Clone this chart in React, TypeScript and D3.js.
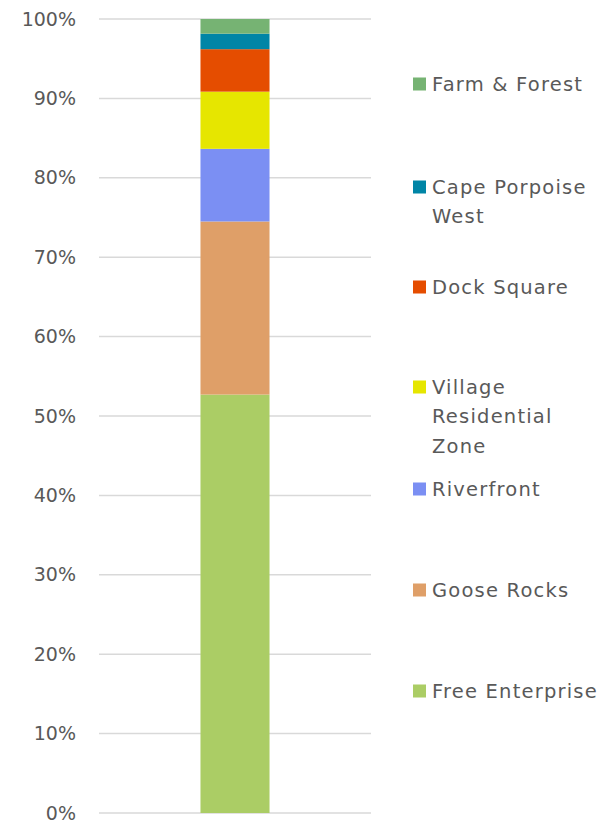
import React from "react";
import * as d3 from "d3";

const categories = ["Free Enterprise", "Goose Rocks", "Riverfront", "Village Residential Zone", "Dock Square", "Cape Porpoise West", "Farm & Forest"];
const values = [52.7, 21.8, 9.15, 7.2, 5.35, 1.95, 1.85];
const colors = ["#abcd65", "#df9f68", "#7b8ff3", "#e6e600", "#e54d00", "#0085a6", "#76b373"];
const legendLines = [["Free Enterprise"], ["Goose Rocks"], ["Riverfront"], ["Village", "Residential", "Zone"], ["Dock Square"], ["Cape Porpoise", "West"], ["Farm & Forest"]];
const legendY = [691, 590, 489, 387, 287, 187, 84];
const ticks = [0, 10, 20, 30, 40, 50, 60, 70, 80, 90, 100];

export default function App() {
  const W = 609, H = 825;
  const y = d3.scaleLinear().domain([0, 100]).range([813, 19]);
  const x = d3.scaleBand().domain(["all"]).range([99, 371]).paddingInner(0).paddingOuter(1.47);
  const row: any = { key: "all" };
  categories.forEach((c, i) => (row[c] = values[i]));
  const stack = d3.stack().keys(categories)([row]);
  const font = "'DejaVu Sans', sans-serif";
  return (
    <svg width={W} height={H} style={{ position: "absolute", left: 0, top: 0 }}>
      {ticks.map((t) => (
        <g key={t}>
          <line x1={99} x2={371} y1={y(t)} y2={y(t)} stroke="#d9d9d9" strokeWidth={1.5} />
          <text x={76} y={y(t)} dy="0.35em" textAnchor="end" fontFamily={font} fontSize={19} fill="#595959">{t}%</text>
        </g>
      ))}
      {stack.map((s, i) => (
        <rect key={categories[i]} x={x("all")} width={x.bandwidth()} y={y(s[0][1])} height={y(s[0][0]) - y(s[0][1])} fill={colors[i]} />
      ))}
      {categories.map((c, i) => (
        <g key={c}>
          <rect x={413} y={legendY[i] - 6.5} width={13} height={13} fill={colors[i]} />
          {legendLines[i].map((l, j) => (
            <text key={j} x={432} y={legendY[i] + j * 29.5} dy="0.35em" fontFamily={font} fontSize={19.5} letterSpacing={1.2} fill="#595959">{l}</text>
          ))}
        </g>
      ))}
    </svg>
  );
}
